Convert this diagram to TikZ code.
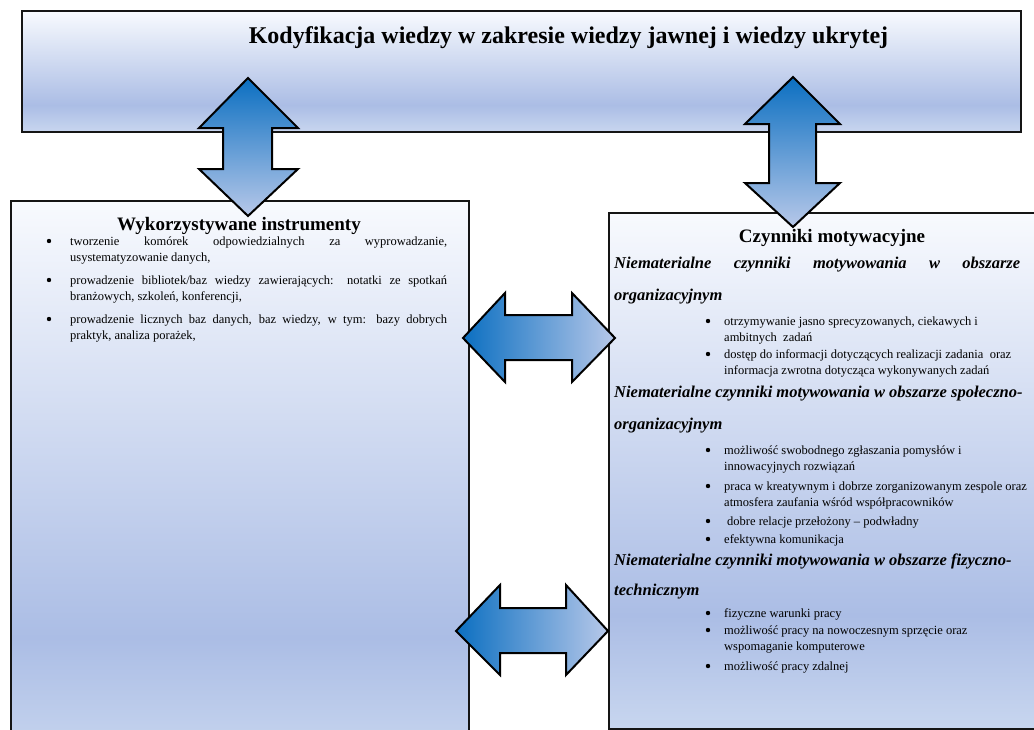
\documentclass[tikz,border=0pt]{standalone}
\usepackage{fontspec}
\setmainfont{Liberation Serif}

\definecolor{bxtop}{HTML}{F8FAFE}
\definecolor{bxmid}{HTML}{ABBDE5}
\definecolor{bxlow}{HTML}{C8D6EF}
\definecolor{arrdark}{HTML}{0B6FC1}
\definecolor{arrlight}{HTML}{B7C8E9}
\definecolor{edgecol}{HTML}{151515}

% pale at the top, deepest blue near the bottom, slightly lighter at the very bottom
\pgfdeclareverticalshading{boxshade}{100bp}{%
  color(0bp)=(bxlow); color(25bp)=(bxlow); color(36bp)=(bxmid);
  color(75bp)=(bxtop); color(100bp)=(bxtop)}

\tikzset{
  panel/.style={rectangle, draw=edgecol, line width=1.7pt, shade, shading=boxshade,
    anchor=north west, inner sep=0pt},
  varrow/.style={draw=black, line width=2pt, line join=miter,
    top color=arrdark, bottom color=arrlight},
  harrow/.style={draw=black, line width=2pt, line join=miter,
    left color=arrdark, right color=arrlight},
  maintitle/.style={anchor=base, inner sep=0pt, font=\fontsize{24}{28}\selectfont\bfseries},
  paneltitle/.style={anchor=base, inner sep=0pt, font=\fontsize{19}{23}\selectfont\bfseries},
  bodyline/.style={anchor=base west, inner sep=0pt, font=\fontsize{12.5}{15}\selectfont},
  headline/.style={anchor=base west, inner sep=0pt, font=\fontsize{16.5}{20}\selectfont\bfseries\itshape},
  dot/.style={circle, fill=black, inner sep=0pt, minimum size=4.4pt, yshift=4pt},
}

\begin{document}
\begin{tikzpicture}[x=1pt, y=-1pt]
\useasboundingbox (0,0) rectangle (1034,729);

% panels
\node[panel, minimum width=999, minimum height=121] (top) at (21,10) {};
\node[panel, minimum width=458, minimum height=560] (left) at (10,200) {};
\node[panel, minimum width=440, minimum height=516] (right) at (608,212) {};

% block arrows
\draw[varrow] (248,78) -- (298,128) -- (272,128) -- (272,169) -- (298,169)
  -- (248,216) -- (199,169) -- (223,169) -- (223,128) -- (199,128) -- cycle;
\draw[varrow] (793,77) -- (840,124) -- (816,124) -- (816,183) -- (840,183)
  -- (793,227) -- (745,183) -- (769,183) -- (769,124) -- (745,124) -- cycle;
\draw[harrow] (463,338) -- (505,293) -- (505,315) -- (572,315) -- (572,293)
  -- (615,338) -- (572,382) -- (572,360) -- (505,360) -- (505,382) -- cycle;
\draw[harrow] (456,631) -- (500,585) -- (500,608) -- (566,608) -- (566,585)
  -- (608,631) -- (566,675) -- (566,653) -- (500,653) -- (500,675) -- cycle;

% titles
\node[maintitle] (ttop) at (568.5,43) {Kodyfikacja wiedzy w zakresie wiedzy jawnej i wiedzy ukrytej};
\node[paneltitle] (tleft) at (239,230) {Wykorzystywane instrumenty};
\node[paneltitle] (tright) at (832,242) {Czynniki motywacyjne};

% left panel list
\node[dot] (lb1) at (49,245) {};
\node[bodyline] (l1a) at (70,245) {\makebox[377pt][s]{tworzenie komórek odpowiedzialnych za wyprowadzanie,}};
\node[bodyline] (l1b) at (70,261) {usystematyzowanie danych,};
\node[dot] (lb2) at (49,284) {};
\node[bodyline] (l2a) at (70,284) {\makebox[377pt][s]{prowadzenie bibliotek/baz wiedzy zawierających: notatki ze spotkań}};
\node[bodyline] (l2b) at (70,300) {branżowych, szkoleń, konferencji,};
\node[dot] (lb3) at (49,323) {};
\node[bodyline] (l3a) at (70,323) {\makebox[377pt][s]{prowadzenie licznych baz danych, baz wiedzy, w tym: bazy dobrych}};
\node[bodyline] (l3b) at (70,339) {praktyk, analiza porażek,};

% right panel: organisational factors
\node[headline] (h1a) at (614,268) {\makebox[406pt][s]{Niematerialne czynniki motywowania w obszarze}};
\node[headline] (h1b) at (614,300) {organizacyjnym};
\node[dot] (rb1) at (708,325) {};
\node[bodyline] (r1a) at (724,325) {otrzymywanie jasno sprecyzowanych, ciekawych i};
\node[bodyline] (r1b) at (724,341) {ambitnych~~zadań};
\node[dot] (rb2) at (708,358) {};
\node[bodyline] (r2a) at (724,358) {dostęp do informacji dotyczących realizacji zadania~~oraz};
\node[bodyline] (r2b) at (724,374) {informacja zwrotna dotycząca wykonywanych zadań};

% right panel: socio-organisational factors
\node[headline] (h2a) at (614,397) {Niematerialne czynniki motywowania w obszarze społeczno-};
\node[headline] (h2b) at (614,429) {organizacyjnym};
\node[dot] (rb3) at (708,454) {};
\node[bodyline] (r3a) at (724,454) {możliwość swobodnego zgłaszania pomysłów i};
\node[bodyline] (r3b) at (724,470) {innowacyjnych rozwiązań};
\node[dot] (rb4) at (708,490) {};
\node[bodyline] (r4a) at (724,490) {praca w kreatywnym i dobrze zorganizowanym zespole oraz};
\node[bodyline] (r4b) at (724,506) {atmosfera zaufania wśród współpracowników};
\node[dot] (rb5) at (708,525) {};
\node[bodyline] (r5a) at (724,525) {\hspace*{3pt}dobre relacje przełożony – podwładny};
\node[dot] (rb6) at (708,543) {};
\node[bodyline] (r6a) at (724,543) {efektywna komunikacja};

% right panel: physical and technical factors
\node[headline] (h3a) at (614,565) {Niematerialne czynniki motywowania w obszarze fizyczno-};
\node[headline] (h3b) at (614,595) {technicznym};
\node[dot] (rb7) at (708,617) {};
\node[bodyline] (r7a) at (724,617) {fizyczne warunki pracy};
\node[dot] (rb8) at (708,634) {};
\node[bodyline] (r8a) at (724,634) {możliwość pracy na nowoczesnym sprzęcie oraz};
\node[bodyline] (r8b) at (724,650) {wspomaganie komputerowe};
\node[dot] (rb9) at (708,670) {};
\node[bodyline] (r9a) at (724,670) {możliwość pracy zdalnej};
\end{tikzpicture}
\end{document}
